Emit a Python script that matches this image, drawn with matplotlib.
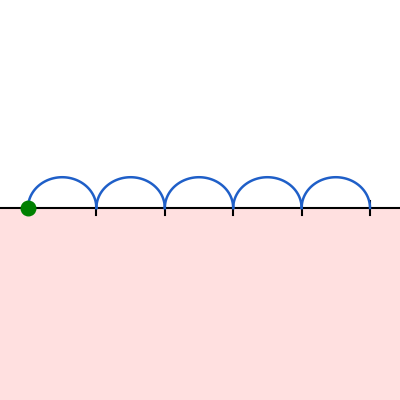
import numpy as np
import matplotlib
matplotlib.use("Agg")
import matplotlib.pyplot as plt

# jumps along the number line
points = [0, 1, 2, 3, 4, 5]
start = 0
arc_height = 0.45

scale = 68.4  # px per unit
fig = plt.figure(figsize=(4, 4), dpi=100)
ax = fig.add_axes([0, 0, 1, 1])
ax.set_xlim(-28 / scale, (400 - 28) / scale)
ax.set_ylim(-192 / scale, 208 / scale)
ax.axis("off")

# shaded region below the line
ax.axhspan(-10, 0, color="#ffe0e0", zorder=0)
ax.axhline(0, color="black", linewidth=1.5, zorder=2)

for p in points[1:]:
    ax.plot([p, p], [-0.1, 0.1], color="black", linewidth=1.5, zorder=2)

t = np.linspace(0, np.pi, 100)
for a, b in zip(points[:-1], points[1:]):
    mid = (a + b) / 2
    ax.plot(mid - (b - a) / 2 * np.cos(t), arc_height * np.sin(t),
            color="#1f5fc8", linewidth=1.8, zorder=3)

ax.scatter([start], [0], s=110, color="green", zorder=4)

fig.savefig("out.png", dpi=100)
